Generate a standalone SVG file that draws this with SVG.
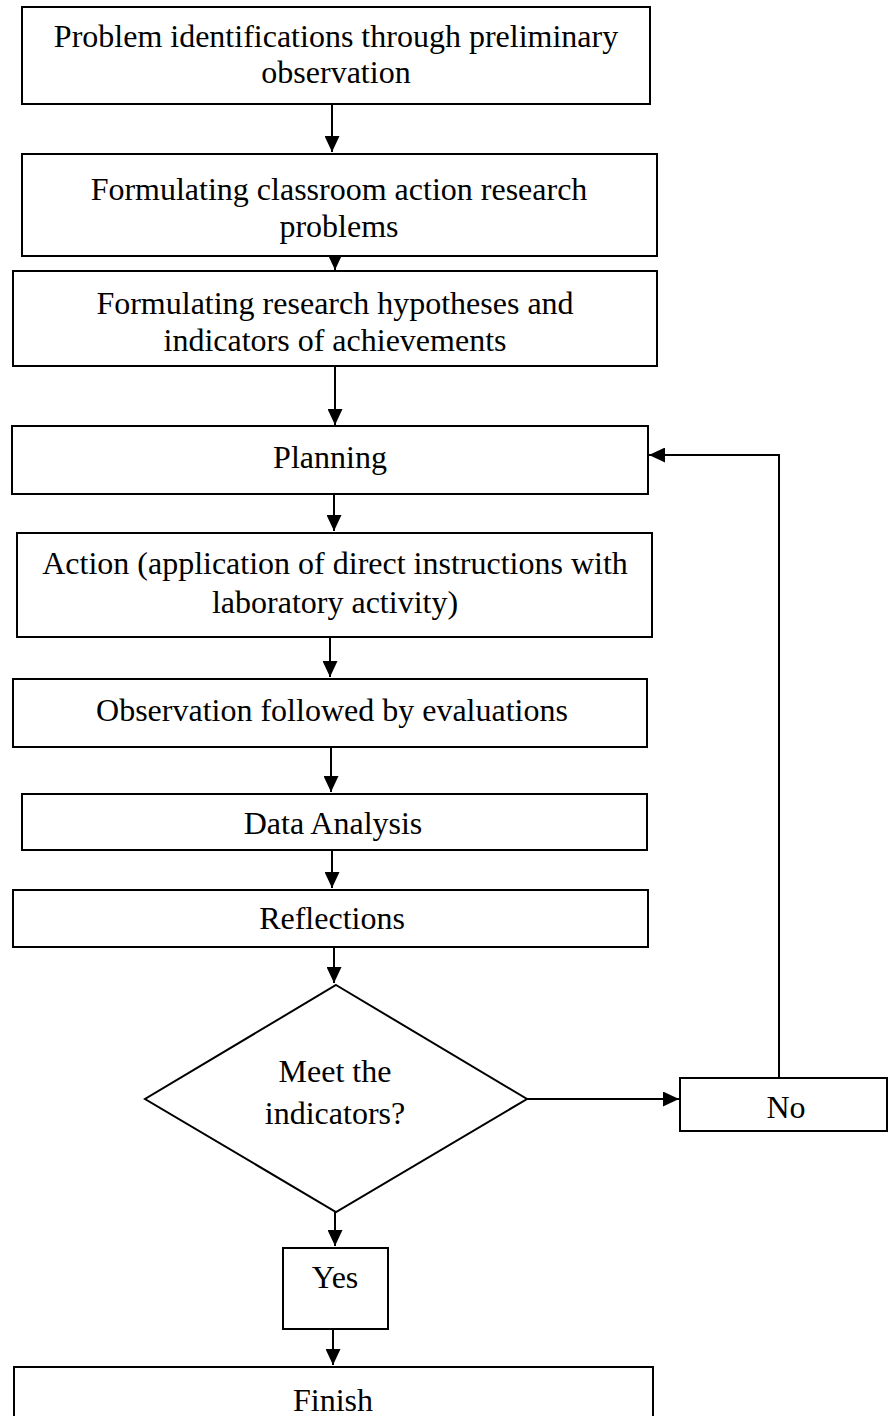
<svg xmlns="http://www.w3.org/2000/svg" width="889" height="1416" viewBox="0 0 889 1416">
<style>
.box{fill:#fff;stroke:#000;stroke-width:2}
.t{font-family:"Liberation Serif","Times New Roman",serif;font-size:32px;fill:#000;text-anchor:middle}
.c{fill:none;stroke:#000;stroke-width:2}
</style>
<defs>
<marker id="ah" markerUnits="userSpaceOnUse" markerWidth="16" markerHeight="15" viewBox="0 0 16 15" refX="16" refY="7.5" orient="auto">
<path d="M0,0 L16,7.5 L0,15 Z" fill="#000"/>
</marker>
</defs>
<rect width="889" height="1416" fill="#fff"/>
<g id="connectors">
<line class="c" x1="332" y1="104" x2="332" y2="152" marker-end="url(#ah)"/>
<line class="c" x1="335" y1="256" x2="335" y2="270" marker-end="url(#ah)"/>
<line class="c" x1="335" y1="366" x2="335" y2="425" marker-end="url(#ah)"/>
<line class="c" x1="334" y1="494" x2="334" y2="531" marker-end="url(#ah)"/>
<line class="c" x1="330" y1="637" x2="330" y2="677" marker-end="url(#ah)"/>
<line class="c" x1="331" y1="747" x2="331" y2="792" marker-end="url(#ah)"/>
<line class="c" x1="332" y1="850" x2="332" y2="888" marker-end="url(#ah)"/>
<line class="c" x1="334" y1="947" x2="334" y2="983" marker-end="url(#ah)"/>
<line class="c" x1="335" y1="1212" x2="335" y2="1246" marker-end="url(#ah)"/>
<line class="c" x1="333" y1="1329" x2="333" y2="1365" marker-end="url(#ah)"/>
<line class="c" x1="527" y1="1099" x2="679" y2="1099" marker-end="url(#ah)"/>
<polyline class="c" points="779,1078 779,455 649,455" marker-end="url(#ah)"/>
</g>
<g id="n1"><rect class="box" x="22" y="7" width="628" height="97"/>
<text class="t" x="336" y="47">Problem identifications through preliminary</text>
<text class="t" x="336" y="83">observation</text></g>
<g id="n2"><rect class="box" x="22" y="154" width="635" height="102"/>
<text class="t" x="339" y="200">Formulating classroom action research</text>
<text class="t" x="339" y="237">problems</text></g>
<g id="n3"><rect class="box" x="13" y="271" width="644" height="95"/>
<text class="t" x="335" y="314">Formulating research hypotheses and</text>
<text class="t" x="335" y="351">indicators of achievements</text></g>
<g id="n4"><rect class="box" x="12" y="426" width="636" height="68"/>
<text class="t" x="330" y="468">Planning</text></g>
<g id="n5"><rect class="box" x="17" y="533" width="635" height="104"/>
<text class="t" x="335" y="574">Action (application of direct instructions with</text>
<text class="t" x="335" y="613">laboratory activity)</text></g>
<g id="n6"><rect class="box" x="13" y="679" width="634" height="68"/>
<text class="t" x="332" y="721">Observation followed by evaluations</text></g>
<g id="n7"><rect class="box" x="22" y="794" width="625" height="56"/>
<text class="t" x="333" y="834">Data Analysis</text></g>
<g id="n8"><rect class="box" x="13" y="890" width="635" height="57"/>
<text class="t" x="332" y="929">Reflections</text></g>
<g id="n9"><polygon class="box" points="336,985 527,1099 336,1212 145,1099"/>
<text class="t" x="335" y="1082">Meet the</text>
<text class="t" x="335" y="1124">indicators?</text></g>
<g id="n10"><rect class="box" x="680" y="1078" width="207" height="53"/>
<text class="t" x="786" y="1118">No</text></g>
<g id="n11"><rect class="box" x="283" y="1248" width="105" height="81"/>
<text class="t" x="335" y="1288">Yes</text></g>
<g id="n12"><rect class="box" x="14" y="1367" width="639" height="60"/>
<text class="t" x="333" y="1411">Finish</text></g>
</svg>
